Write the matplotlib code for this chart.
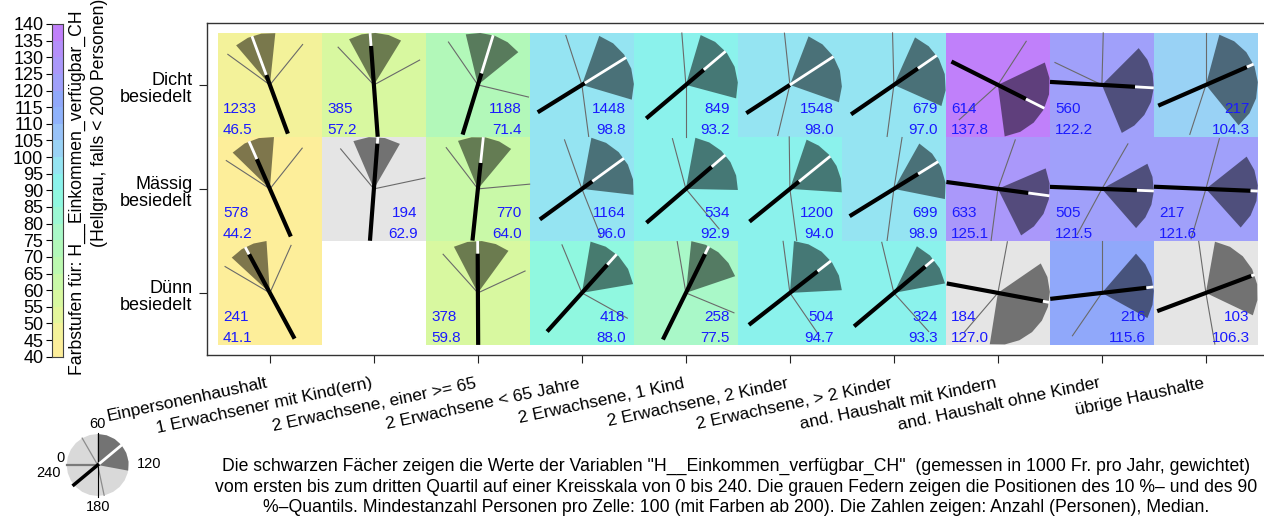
import numpy as np
import matplotlib
matplotlib.use("Agg")
import matplotlib.pyplot as plt
from matplotlib.patches import Rectangle, Polygon
from matplotlib.transforms import blended_transform_factory

plt.rcParams['font.family'] = ['Liberation Sans', 'DejaVu Sans']

W, H = 1264, 518

categories = ["Einpersonenhaushalt", "1 Erwachsener mit Kind(ern)",
              "2 Erwachsene, einer >= 65", "2 Erwachsene < 65 Jahre",
              "2 Erwachsene, 1 Kind", "2 Erwachsene, 2 Kinder",
              "2 Erwachsene, > 2 Kinder", "and. Haushalt mit Kindern",
              "and. Haushalt ohne Kinder", "übrige Haushalte"]
regions = ["Dicht\nbesiedelt", "Mässig\nbesiedelt", "Dünn\nbesiedelt"]

# rows: Dicht, Mässig, Dünn ; None = too few persons, no cell
counts = [[1233, 385, 1188, 1448, 849, 1548, 679, 614, 560, 217],
          [578, 194, 770, 1164, 534, 1200, 699, 633, 505, 217],
          [241, None, 378, 418, 258, 504, 324, 184, 216, 103]]
medians = [[46.5, 57.2, 71.4, 98.8, 93.2, 98.0, 97.0, 137.8, 122.2, 104.3],
           [44.2, 62.9, 64.0, 96.0, 92.9, 94.0, 98.9, 125.1, 121.5, 121.6],
           [41.1, None, 59.8, 88.0, 77.5, 94.7, 93.3, 127.0, 115.6, 106.3]]
q1 = [[33, 41, 51, 73, 71, 74, 76, 103, 90, 70],
      [29.5, 44.5, 45, 67, 67, 72.5, 79.5, 104.5, 100.7, 94.4],
      [28.5, None, 41.7, 66.4, 64, 63, 77.5, 97, 87.3, 66.7]]
q3 = [[64, 81, 94, 131, 130, 133, 136, 175, 165, 154],
      [63, 80, 86.5, 124.4, 120.8, 122.5, 127.5, 162.3, 152.6, 152],
      [57.5, None, 84, 113.5, 107.5, 118, 113, 186, 139.3, 137]]
p10 = [[24, 31, 37, 48, 57, 56, 59, 82, 61, 60],
       [22, 33.5, 35, 47, 50, 59.5, 66, 73, 80, 70],
       [20.3, None, 32, 45, 53.6, 55, 51, 67, 60, 54.7]]
p90 = [[86, 101, 129, 175, 180, 189, 185, 212, 257, 192],
       [85.6, 112, 116.5, 165.5, 153.5, 175, 185, 185, 199, 191],
       [76, None, 103.4, 139.4, 135, 157, 152, 207, 203, 173.4]]

bin_colors = ['#fdee9a', '#f3f29a', '#e4f69c', '#d8f8a0', '#c9f9a8',
              '#bcf9b0', '#b2f8b9', '#a9f8c8', '#9cf8d4', '#90f8e0',
              '#8bf2ec', '#95e4f2', '#99d2f5', '#98c2f8', '#8fb2fb',
              '#90a8fa', '#a0a0fa', '#aa98fa', '#b48ffa', '#c080fa']
bin_edges = list(range(40, 145, 5))

legend_vals = dict(q1=60, q3=127, med=93.5, p10=40, p90=172)

footer = ['Die schwarzen Fächer zeigen die Werte der Variablen "H__Einkommen_verfügbar_CH"  (gemessen in 1000 Fr. pro Jahr, gewichtet)',
          'vom ersten bis zum dritten Quartil auf einer Kreisskala von 0 bis 240. Die grauen Federn zeigen die Positionen des 10 %– und des 90',
          '%–Quantils. Mindestanzahl Personen pro Zelle: 100 (mit Farben ab 200). Die Zahlen zeigen: Anzahl (Personen), Median.']


def circ(x, y, v, r):
    a = np.deg2rad(180 - 1.5 * np.asarray(v, dtype=float))
    return x + r * np.cos(a), y + r * np.sin(a)


def fan_poly(x, y, a, b, r):
    nseg = max(2, int(np.ceil((b - a) / 12.0)))
    vs = np.linspace(a, b, nseg + 1)
    xs, ys = circ(x, y, vs, r)
    return np.column_stack([np.r_[x, xs], np.r_[y, ys]])


fig = plt.figure(figsize=(W / 100, H / 100), dpi=100)

# main grid
unit = 104.0
ax = fig.add_axes([207.5 / W, 1 - 355.3 / H, 10.2 * unit / W, 3.2 * unit / H])
ax.set_xlim(0.4, 10.6)
ax.set_ylim(0.4, 3.6)
R = 0.5
nmax = max(c for row in counts for c in row if c is not None)

for i in range(3):
    yc = 3 - i
    for j in range(10):
        n = counts[i][j]
        if n is None:
            continue
        xc = j + 1
        m = medians[i][j]
        if n < 200:
            bg = '#e5e5e5'
        else:
            bg = bin_colors[int((m - 40) // 5)]
        ax.add_patch(Rectangle((xc - .5, yc - .5), 1, 1, fc=bg, ec='none', zorder=1))
        ax.add_patch(Polygon(fan_poly(xc, yc, q1[i][j], q3[i][j], R), closed=True,
                             fc='black', alpha=0.5, ec='none', zorder=2))
        for v in (p10[i][j], p90[i][j]):
            ex, ey = circ(xc, yc, v, R)
            ax.plot([xc, ex], [yc, ey], color='#6a6a6a', lw=0.8, zorder=3)
        e = 1 - n / nmax
        bx, by = circ(xc, yc, m + 120, R)
        mx, my = circ(xc, yc, m, e * R)
        tx, ty = circ(xc, yc, m, R)
        ax.plot([bx, mx], [by, my], color='black', lw=3.0, solid_capstyle='butt', zorder=4)
        ax.plot([mx, tx], [my, ty], color='white', lw=2.0, solid_capstyle='butt', zorder=4)
        if m < 60 or m > 120:
            x_t, ha = xc - 0.45, 'left'
        else:
            x_t, ha = xc + 0.42, 'right'
        ax.text(x_t, yc - 0.23, str(n), color='#1a1aff', fontsize=11,
                ha=ha, va='center', zorder=5)
        ax.text(x_t, yc - 0.435, f"{m:.1f}", color='#1a1aff', fontsize=11,
                ha=ha, va='center', zorder=5)

ax.set_xticks(range(1, 11))
ax.set_xticklabels([])
ax.set_yticks([1, 2, 3])
ax.set_yticklabels([])
ax.tick_params(length=5.5, width=0.8, color='#222222')
for s in ax.spines.values():
    s.set_linewidth(1.0)
    s.set_color('#333333')

yl = blended_transform_factory(ax.transAxes, ax.transData)
for i, lab in enumerate(regions):
    ax.text(-0.0142, 3 - i - 0.04, lab, transform=yl, ha='right', va='center',
            multialignment='right', fontsize=13, linespacing=1.0)

xl = blended_transform_factory(ax.transData, fig.transFigure)
for j, lab in enumerate(categories):
    ax.text(j + 1 - 0.02, 1 - 383 / H, lab, transform=xl, rotation=12,
            rotation_mode='anchor', ha='right', va='center', fontsize=12.5,
            clip_on=False)

# colour bar
cax = fig.add_axes([51.7 / W, 1 - 356.7 / H, 11 / W, 332.7 / H])
for k, c in enumerate(bin_colors):
    cax.bar(0, bin_edges[k + 1] - bin_edges[k], bottom=bin_edges[k], width=1,
            color=c, align='edge')
cax.set_xlim(0, 1)
cax.set_ylim(40, 140)
cax.set_xticks([])
cax.set_yticks(bin_edges)
cax.tick_params(axis='y', length=4, width=0.8, pad=2, labelsize=13)
for s in cax.spines.values():
    s.set_linewidth(0.8)
    s.set_color('#444444')

fig.text(77.7 / W, 1 - 193 / H, "Farbstufen für: H__Einkommen_verfügbar_CH",
         rotation=90, ha='center', va='center', fontsize=12.7)
fig.text(99.3 / W, 1 - 123 / H, "(Hellgrau, falls < 200 Personen)",
         rotation=90, ha='center', va='center', fontsize=12.7)

# legend circle
lr = 31.0
lax = fig.add_axes([(97.7 - 70) / W, 1 - (465 + 52) / H, 140 / W, 104 / H])
lax.set_xlim(-70 / lr, 70 / lr)
lax.set_ylim(-52 / lr, 52 / lr)
lax.axis('off')
full = np.linspace(0, 240, 25)
dx, dy = circ(0, 0, full, 1)
lax.add_patch(Polygon(np.column_stack([dx, dy]), closed=True, fc='#d9d9d9', ec='none'))
lax.add_patch(Polygon(fan_poly(0, 0, legend_vals['q1'], legend_vals['q3'], 1),
                      closed=True, fc='#737373', ec='none'))
for v in (legend_vals['p10'], legend_vals['p90']):
    ex, ey = circ(0, 0, v, 1)
    lax.plot([0, ex], [0, ey], color='#8c8c8c', lw=0.9)
lax.plot([0, 0], [-1.03, 1.03], color='black', lw=0.8)
ex, ey = circ(0, 0, 0, 1)
lax.plot([0, ex], [0, ey], color='#7a7a7a', lw=1.6)
ex, ey = circ(0, 0, legend_vals['med'], 1)
lax.plot([0, ex], [0, ey], color='white', lw=2.0)
ex, ey = circ(0, 0, legend_vals['med'] + 120, 1)
lax.plot([0, ex], [0, ey], color='black', lw=2.5)
lax.text(0, 1.32, "60", ha='center', va='center', fontsize=10.5)
lax.text(1.27, 0.02, "120", ha='left', va='center', fontsize=10.5)
lax.text(0, -1.36, "180", ha='center', va='center', fontsize=10.5)
lax.text(-1.21, 0.23, "0", ha='center', va='center', fontsize=10.5)
lax.text(-1.6, -0.26, "240", ha='center', va='center', fontsize=10.5)

for k, line in enumerate(footer):
    fig.text(736 / W, 1 - (466 + 21 * k) / H, line, ha='center', va='center', fontsize=12.7)

fig.savefig("out.png", dpi=100)
